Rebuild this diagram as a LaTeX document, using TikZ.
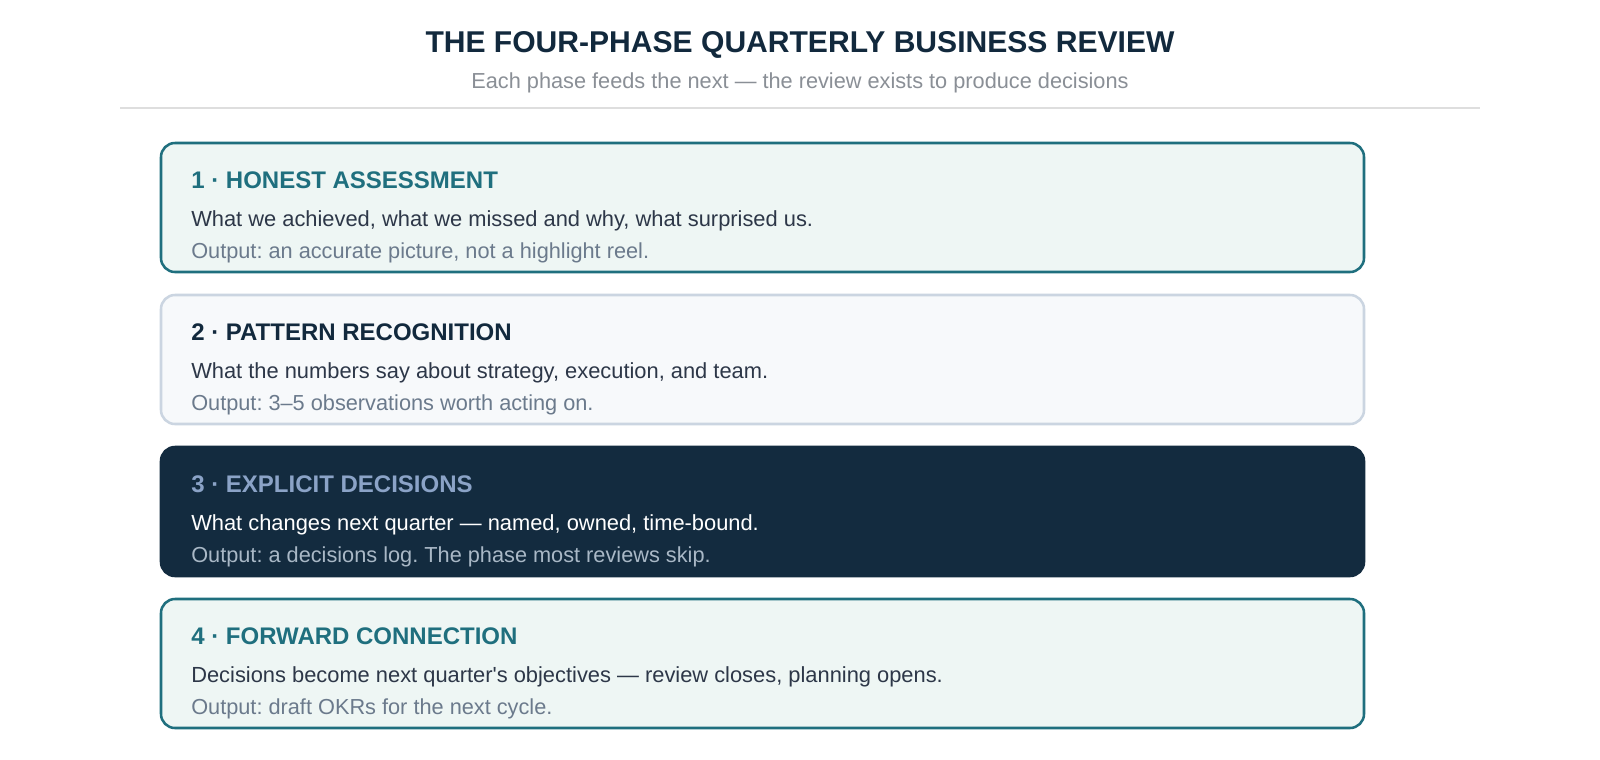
\documentclass[tikz,border=0pt]{standalone}
\usepackage{fontspec}
\setmainfont{Liberation Sans}
\usepackage{tikz}
\usepackage{xcolor}
\usetikzlibrary{calc}
\frenchspacing

\definecolor{navy}{HTML}{12293D}
\definecolor{teal}{HTML}{1F6F7E}
\definecolor{tealfill}{HTML}{EEF6F4}
\definecolor{greyline}{HTML}{CBD5E1}
\definecolor{greyfill}{HTML}{F7F9FB}
\definecolor{darkfill}{HTML}{132B3F}
\definecolor{darkhead}{HTML}{8BA3C7}
\definecolor{darkout}{HTML}{A9B8C6}
\definecolor{bodytext}{HTML}{2D3748}
\definecolor{outtext}{HTML}{6B7A8C}
\definecolor{subgrey}{HTML}{8A8F96}

\tikzset{
  phasebox/.style={rounded corners=10.5pt, line width=1.9pt, minimum width=902.25pt, minimum height=96.75pt, inner sep=0pt},
  head/.style={anchor=base west, inner sep=0pt, font=\fontsize{18pt}{21pt}\selectfont\bfseries},
  body/.style={anchor=base west, inner sep=0pt, font=\fontsize{16.4pt}{19pt}\selectfont},
  outp/.style={anchor=base west, inner sep=0pt, font=\fontsize{16.3pt}{19pt}\selectfont}
}

\begin{document}
\begin{tikzpicture}[x=0.75pt,y=-0.75pt]
        \useasboundingbox[fill=white] (0,0) rectangle (1600,760);

        % title
        \node[anchor=base, inner sep=0pt, text=navy, font=\fontsize{22.55pt}{25pt}\selectfont\bfseries] (title) at (800,52) {THE FOUR-PHASE QUARTERLY BUSINESS REVIEW};
        \node[anchor=base, inner sep=0pt, text=subgrey, font=\fontsize{16.3pt}{19pt}\selectfont] (subtitle) at (800,88) {Each phase feeds the next --- the review exists to produce decisions};
        \coordinate (rl) at (120,108);
        \coordinate (rr) at (1480,108);
        \draw[color=black!13, line width=1.5pt] (rl) -- (rr);

        % phase 1
        \node[phasebox, draw=teal, fill=tealfill] (P1) at (762.5,207.5) {};
        \node[head, text=teal] (P1h) at (191,188) {1 · HONEST ASSESSMENT};
        \node[body, text=bodytext] (P1b) at (191,226) {What we achieved, what we missed and why, what surprised us.};
        \node[outp, text=outtext] (P1o) at (191,258) {Output: an accurate picture, not a highlight reel.};

        % phase 2
        \node[phasebox, draw=greyline, fill=greyfill] (P2) at (762.5,359.5) {};
        \node[head, text=navy] (P2h) at (191,340) {2 · PATTERN RECOGNITION};
        \node[body, text=bodytext] (P2b) at (191,378) {What the numbers say about strategy, execution, and team.};
        \node[outp, text=outtext] (P2o) at (191,410) {Output: 3--5 observations worth acting on.};

        % phase 3
        \node[phasebox, draw=darkfill, fill=darkfill] (P3) at (762.5,511.5) {};
        \node[head, text=darkhead] (P3h) at (191,492) {3 · EXPLICIT DECISIONS};
        \node[body, text=white] (P3b) at (191,530) {What changes next quarter --- named, owned, time-bound.};
        \node[outp, text=darkout] (P3o) at (191,562) {Output: a decisions log. The phase most reviews skip.};

        % phase 4
        \node[phasebox, draw=teal, fill=tealfill] (P4) at (762.5,663.5) {};
        \node[head, text=teal] (P4h) at (191,644) {4 · FORWARD CONNECTION};
        \node[body, text=bodytext] (P4b) at (191,682) {Decisions become next quarter\textquotesingle s objectives --- review closes, planning opens.};
        \node[outp, text=outtext] (P4o) at (191,714) {Output: draft OKRs for the next cycle.};
    \end{tikzpicture}
\end{document}
